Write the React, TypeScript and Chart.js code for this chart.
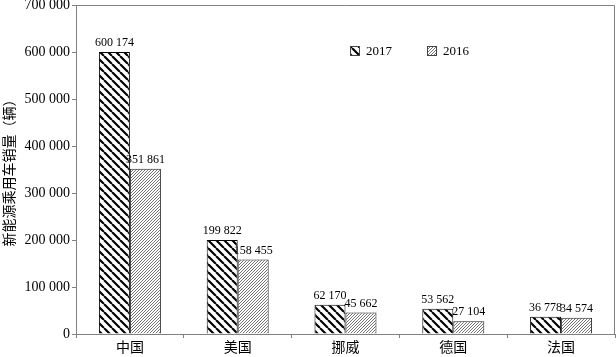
import React, { useEffect, useRef } from "react";
import { Chart, registerables } from "chart.js";

Chart.register(...registerables);

const categories = ["中国", "美国", "挪威", "德国", "法国"];
const sales2017 = [600174, 199822, 62170, 53562, 36778];
const sales2016 = [351861, 158455, 45662, 27104, 34574];
const seriesLabels = ["2017", "2016"];
const yAxisTitle = "新能源乘用车销量（辆）";

const SERIF = "'Liberation Serif', 'Times New Roman', 'Noto Sans CJK SC', serif";

function fmt(v: number): string {
  return String(Math.round(v)).replace(/\B(?=(\d{3})+(?!\d))/g, " ");
}

function makePattern(size: number, lw: number, color: string, back: boolean): CanvasPattern | string {
  const c = document.createElement("canvas");
  c.width = size;
  c.height = size;
  const g = c.getContext("2d");
  if (!g) return color;
  g.fillStyle = "#ffffff";
  g.fillRect(0, 0, size, size);
  g.strokeStyle = color;
  g.lineWidth = lw;
  g.beginPath();
  for (let k = -1; k <= 1; k++) {
    const x = k * size;
    if (back) {
      g.moveTo(x, 0);
      g.lineTo(x + size, size);
    } else {
      g.moveTo(x, size);
      g.lineTo(x + size, 0);
    }
  }
  g.stroke();
  const p = g.createPattern(c, "repeat");
  return p || color;
}

export default function App() {
  const ref = useRef<HTMLCanvasElement>(null);
  useEffect(() => {
    if (!ref.current) return;
    const p2017 = makePattern(8, 2.1, "#000000", true);
    const p2016 = makePattern(3, 0.9, "#666666", false);
    const fills = [p2017, p2016];

    const plugin = {
      id: "extras",
      beforeDraw(chart: any) {
        const { ctx } = chart;
        ctx.save();
        ctx.fillStyle = "#fff";
        ctx.fillRect(0, 0, chart.width, chart.height);
        ctx.restore();
      },
      afterDatasetsDraw(chart: any) {
        const { ctx, chartArea } = chart;
        ctx.save();
        ctx.strokeStyle = "#808080";
        ctx.lineWidth = 1;
        ctx.beginPath();
        ctx.moveTo(Math.round(chartArea.left) + 0.5, Math.round(chartArea.top) + 0.5);
        ctx.lineTo(Math.round(chartArea.right) - 0.5, Math.round(chartArea.top) + 0.5);
        ctx.lineTo(Math.round(chartArea.right) - 0.5, Math.round(chartArea.bottom) + 0.5);
        ctx.stroke();
        ctx.fillStyle = "#000";
        ctx.font = "12px " + SERIF;
        ctx.textAlign = "center";
        ctx.textBaseline = "bottom";
        chart.data.datasets.forEach((ds: any, i: number) => {
          const meta = chart.getDatasetMeta(i);
          meta.data.forEach((el: any, j: number) => {
            ctx.fillText(fmt(ds.data[j]), el.x, el.y - 3);
          });
        });
        const items = [
          { x: 350, label: seriesLabels[0], fill: fills[0] },
          { x: 427, label: seriesLabels[1], fill: fills[1] },
        ];
        ctx.font = "13px " + SERIF;
        ctx.textAlign = "left";
        ctx.textBaseline = "middle";
        items.forEach((it) => {
          ctx.fillStyle = it.fill as any;
          ctx.fillRect(it.x, 46, 10, 10);
          ctx.strokeStyle = "#444";
          ctx.strokeRect(it.x + 0.5, 46.5, 9, 9);
          ctx.fillStyle = "#000";
          ctx.fillText(it.label, it.x + 16, 52);
        });
        ctx.restore();
      },
    };

    const chart = new Chart(ref.current, {
      type: "bar",
      data: {
        labels: categories,
        datasets: [
          {
            label: seriesLabels[0],
            data: sales2017,
            backgroundColor: p2017 as any,
            borderColor: "#000",
            borderWidth: 1,
            barPercentage: 1,
            categoryPercentage: 0.575,
          },
          {
            label: seriesLabels[1],
            data: sales2016,
            backgroundColor: p2016 as any,
            borderColor: "#222",
            borderWidth: 1,
            barPercentage: 1,
            categoryPercentage: 0.575,
          },
        ],
      },
      options: {
        animation: false,
        responsive: false,
        maintainAspectRatio: false,
        layout: { padding: { top: 5, right: 1, left: 0, bottom: 0 } },
        plugins: {
          legend: { display: false },
          tooltip: { enabled: false },
        },
        scales: {
          x: {
            grid: {
              display: true,
              drawOnChartArea: false,
              drawTicks: true,
              tickLength: 4,
              color: "#808080",
              offset: true,
            },
            border: { color: "#808080" },
            ticks: {
              color: "#000",
              font: { family: SERIF, size: 14 },
              padding: 2,
            },
            afterFit: (s: any) => {
              s.height = 23;
              s.paddingLeft = 0;
              s.paddingRight = 0;
            },
          },
          y: {
            min: 0,
            max: 700000,
            ticks: {
              stepSize: 100000,
              color: "#000",
              font: { family: SERIF, size: 14 },
              padding: 2,
              callback: (v: any) => fmt(Number(v)),
            },
            grid: {
              display: true,
              drawOnChartArea: false,
              drawTicks: true,
              tickLength: 4,
              color: "#808080",
            },
            border: { color: "#808080" },
            title: {
              display: true,
              text: yAxisTitle,
              color: "#000",
              font: { family: SERIF, size: 14 },
              padding: { top: 2, bottom: 0 },
            },
            afterFit: (s: any) => {
              s.width = 76;
              s.paddingTop = 0;
              s.paddingBottom = 0;
            },
          },
        },
      },
      plugins: [plugin],
    });
    return () => chart.destroy();
  }, []);
  return (
    <div style={{ position: "fixed", left: 0, top: 0, width: 616, height: 357, background: "#fff" }}>
      <canvas ref={ref} width={616} height={357} style={{ width: 616, height: 357 }} />
    </div>
  );
}
